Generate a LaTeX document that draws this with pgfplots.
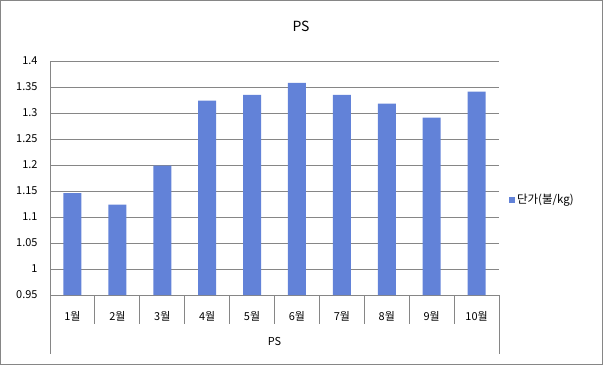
\documentclass[border=0pt]{standalone}
\usepackage{pgfplots}
\pgfplotsset{compat=1.18}
\usepackage{fontspec}
\setmainfont{Noto Sans CJK KR}
\definecolor{barblue}{HTML}{6282D8}
\definecolor{gridgray}{HTML}{868686}
\begin{document}
\begin{tikzpicture}[x=1bp,y=1bp]
\path[use as bounding box] (0,0) rectangle (603,365);
\draw[gridgray, line width=1bp] (0.5,0.5) rectangle (602.5,364.5);
\node[font=\fontsize{14}{16}\selectfont] at (301,338.5) {PS};
\begin{axis}[
  at={(50bp,70bp)}, anchor=south west,
  scale only axis, width=449bp, height=234bp,
  ymin=0.95, ymax=1.4,
  ytick={0.95,1,1.05,1.1,1.15,1.2,1.25,1.3,1.35,1.4},
  yticklabels={0.95,1,1.05,1.1,1.15,1.2,1.25,1.3,1.35,1.4},
  xmin=-0.5, xmax=9.5,
  xtick={0,1,2,3,4,5,6,7,8,9},
  xticklabels={1월,2월,3월,4월,5월,6월,7월,8월,9월,10월},
  axis lines*=left,
  axis line style={gridgray, line width=0.9bp},
  ymajorgrids, grid style={gridgray, line width=0.9bp},
  major tick length=0pt,
  /pgf/number format/assume math mode=true,
  tick label style={font=\fontsize{11}{13}\selectfont, text=black},
  yticklabel style={xshift=-9bp},
  xticklabel style={yshift=-13bp},
  xlabel={PS},
  xlabel style={at={(axis description cs:0.5,0)}, anchor=center, yshift=-46bp, font=\fontsize{11}{13}\selectfont},
  ybar, bar width=18bp,
  clip=false,
  legend style={at={(1.022,0.41)}, anchor=west, draw=none, fill=none,
    font=\fontsize{11.5}{13}\selectfont, inner sep=0pt},
  legend image code/.code={\fill[barblue] (0bp,-4bp) rectangle (6bp,2bp);},
]
\addplot[fill=barblue, draw=none] coordinates {
  (0,1.146) (1,1.124) (2,1.199) (3,1.324) (4,1.335)
  (5,1.358) (6,1.335) (7,1.318) (8,1.291) (9,1.341)};
\addlegendentry{단가(불/kg)}
\draw[gridgray, line width=0.9bp] (axis cs:0.5,0.95) -- ++(0pt,-29bp);
\draw[gridgray, line width=0.9bp] (axis cs:1.5,0.95) -- ++(0pt,-29bp);
\draw[gridgray, line width=0.9bp] (axis cs:2.5,0.95) -- ++(0pt,-29bp);
\draw[gridgray, line width=0.9bp] (axis cs:3.5,0.95) -- ++(0pt,-29bp);
\draw[gridgray, line width=0.9bp] (axis cs:4.5,0.95) -- ++(0pt,-29bp);
\draw[gridgray, line width=0.9bp] (axis cs:5.5,0.95) -- ++(0pt,-29bp);
\draw[gridgray, line width=0.9bp] (axis cs:6.5,0.95) -- ++(0pt,-29bp);
\draw[gridgray, line width=0.9bp] (axis cs:7.5,0.95) -- ++(0pt,-29bp);
\draw[gridgray, line width=0.9bp] (axis cs:8.5,0.95) -- ++(0pt,-29bp);
\draw[gridgray, line width=0.9bp] (axis cs:-0.5,0.95) -- ++(0pt,-59bp);
\draw[gridgray, line width=0.9bp] (axis cs:9.5,0.95) -- ++(0pt,-59bp);
\end{axis}
\end{tikzpicture}
\end{document}
